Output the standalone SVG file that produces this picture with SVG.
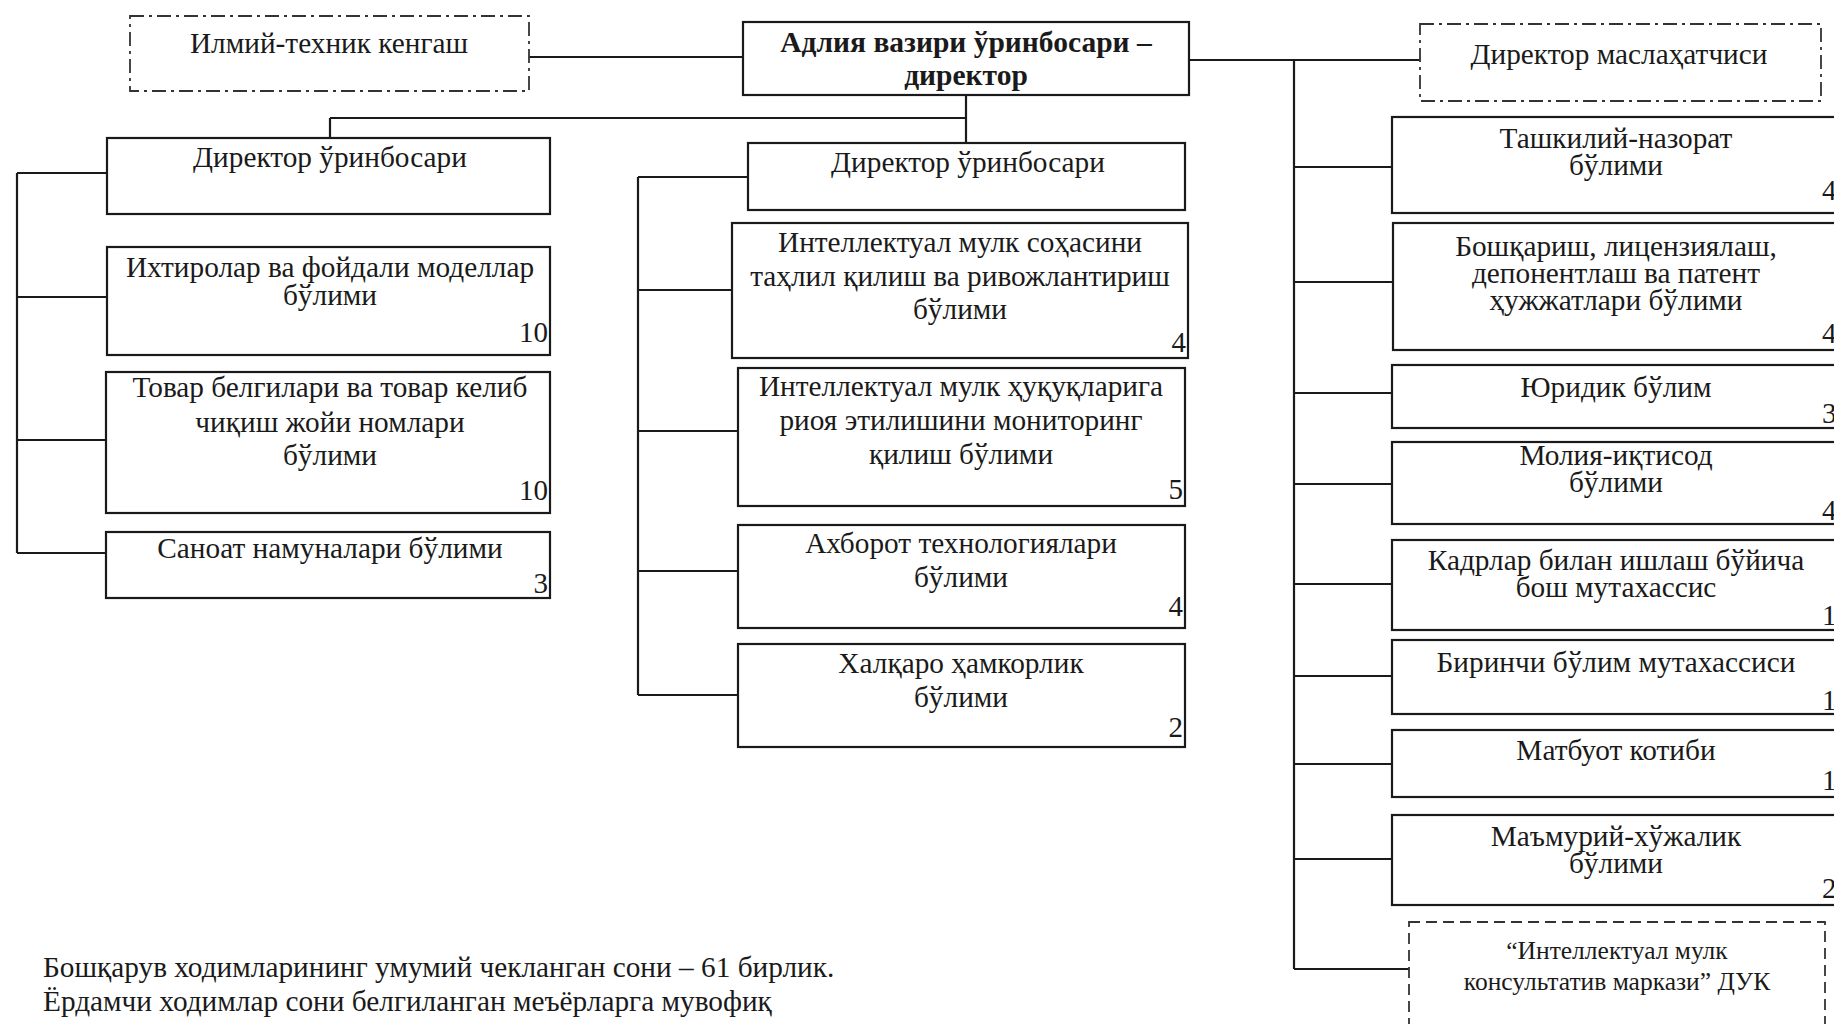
<svg xmlns="http://www.w3.org/2000/svg" width="1834" height="1024" viewBox="0 0 1834 1024">
<style>
.box{fill:#fff;stroke:#1a1a1a;stroke-width:2.2}
.dd{fill:#fff;stroke:#333;stroke-width:1.8;stroke-dasharray:14 5 3 5}
.ds{fill:#fff;stroke:#333;stroke-width:1.8;stroke-dasharray:11 6}
.t{font-family:"Liberation Serif","Times New Roman",serif;font-size:29.3px;fill:#1a1a1a;text-anchor:middle}
.b{font-weight:bold;font-size:29.5px}
.n{font-family:"Liberation Serif","Times New Roman",serif;font-size:29px;fill:#1a1a1a;text-anchor:end}
.nr{font-family:"Liberation Serif","Times New Roman",serif;font-size:29px;fill:#1a1a1a;text-anchor:start}
.s{font-size:25.5px}
.c{stroke:#1a1a1a;stroke-width:2.2;fill:none}
.f{font-family:"Liberation Serif","Times New Roman",serif;font-size:29.3px;fill:#1a1a1a}
</style>
<rect width="1834" height="1024" fill="#fff"/>
<g id="connectors">
<path class="c" d="M529 57H743M1189 60H1420M966 95V143M330 118H966M330 118V138"/>
<path class="c" d="M17 173V553M17 173H107M17 297H107M17 440H106M17 553H106"/>
<path class="c" d="M638 177V695M638 177H748M638 290H732M638 431H738M638 571H738M638 695H738"/>
<path class="c" d="M1294 60V969M1294 167H1392M1294 282H1393M1294 393H1392M1294 484H1392M1294 584H1392M1294 676H1392M1294 764H1392M1294 859H1392M1294 969H1409"/>
</g>
<g id="ilmiy"><rect class="dd" x="130" y="16" width="399" height="75"/><text class="t" x="329" y="53">Илмий-техник кенгаш</text></g>
<g id="head"><rect class="box" x="743" y="22" width="446" height="73"/><text class="t b" x="966" y="52">Адлия вазири ўринбосари –</text><text class="t b" x="966" y="85">директор</text></g>
<g id="maslahatchi"><rect class="dd" x="1420" y="24" width="401" height="77"/><text class="t" x="1619" y="64">Директор маслаҳатчиси</text></g>
<g id="dep-left"><rect class="box" x="107" y="138" width="443" height="76"/><text class="t" x="330" y="167">Директор ўринбосари</text></g>
<g id="ixtirolar"><rect class="box" x="107" y="247" width="443" height="108"/><text class="t" x="330" y="277">Ихтиролар ва фойдали моделлар</text><text class="t" x="330" y="305">бўлими</text><text class="n" x="548" y="342">10</text></g>
<g id="tovar"><rect class="box" x="106" y="372" width="444" height="141"/><text class="t" x="330" y="397">Товар белгилари ва товар келиб</text><text class="t" x="330" y="432">чиқиш жойи номлари</text><text class="t" x="330" y="465">бўлими</text><text class="n" x="548" y="500">10</text></g>
<g id="sanoat"><rect class="box" x="106" y="532" width="444" height="66"/><text class="t" x="330" y="558">Саноат намуналари бўлими</text><text class="n" x="548" y="593">3</text></g>
<g id="dep-center"><rect class="box" x="748" y="143" width="437" height="67"/><text class="t" x="968" y="172">Директор ўринбосари</text></g>
<g id="tahlil"><rect class="box" x="732" y="223" width="456" height="135"/><text class="t" x="960" y="252">Интеллектуал мулк соҳасини</text><text class="t" x="960" y="286">таҳлил қилиш ва ривожлантириш</text><text class="t" x="960" y="319">бўлими</text><text class="n" x="1186" y="352">4</text></g>
<g id="monitoring"><rect class="box" x="738" y="368" width="447" height="138"/><text class="t" x="961" y="396">Интеллектуал мулк ҳуқуқларига</text><text class="t" x="961" y="430">риоя этилишини мониторинг</text><text class="t" x="961" y="464">қилиш бўлими</text><text class="n" x="1183" y="499">5</text></g>
<g id="axborot"><rect class="box" x="738" y="525" width="447" height="103"/><text class="t" x="961" y="553">Ахборот технологиялари</text><text class="t" x="961" y="587">бўлими</text><text class="n" x="1183" y="616">4</text></g>
<g id="xalqaro"><rect class="box" x="738" y="644" width="447" height="103"/><text class="t" x="961" y="673">Халқаро ҳамкорлик</text><text class="t" x="961" y="707">бўлими</text><text class="n" x="1183" y="737">2</text></g>
<g id="tashkiliy"><rect class="box" x="1392" y="117" width="460" height="96"/><text class="t" x="1616" y="148">Ташкилий-назорат</text><text class="t" x="1616" y="175">бўлими</text><text class="nr" x="1822" y="200">4</text></g>
<g id="boshqarish"><rect class="box" x="1393" y="223" width="460" height="127"/><text class="t" x="1616" y="256">Бошқариш, лицензиялаш,</text><text class="t" x="1616" y="283">депонентлаш ва патент</text><text class="t" x="1616" y="310">ҳужжатлари бўлими</text><text class="nr" x="1822" y="343">4</text></g>
<g id="yuridik"><rect class="box" x="1392" y="365" width="460" height="63"/><text class="t" x="1616" y="397">Юридик бўлим</text><text class="nr" x="1822" y="423">3</text></g>
<g id="moliya"><rect class="box" x="1392" y="442" width="460" height="82"/><text class="t" x="1616" y="465">Молия-иқтисод</text><text class="t" x="1616" y="492">бўлими</text><text class="nr" x="1822" y="520">4</text></g>
<g id="kadrlar"><rect class="box" x="1392" y="540" width="460" height="90"/><text class="t" x="1616" y="570">Кадрлар билан ишлаш бўйича</text><text class="t" x="1616" y="597">бош мутахассис</text><text class="nr" x="1822" y="625">1</text></g>
<g id="birinchi"><rect class="box" x="1392" y="640" width="460" height="74"/><text class="t" x="1616" y="672">Биринчи бўлим мутахассиси</text><text class="nr" x="1822" y="710">1</text></g>
<g id="matbuot"><rect class="box" x="1392" y="730" width="460" height="67"/><text class="t" x="1616" y="760">Матбуот котиби</text><text class="nr" x="1822" y="790">1</text></g>
<g id="mamuriy"><rect class="box" x="1392" y="815" width="460" height="90"/><text class="t" x="1616" y="846">Маъмурий-хўжалик</text><text class="t" x="1616" y="873">бўлими</text><text class="nr" x="1822" y="898">2</text></g>
<g id="duk"><rect class="ds" x="1409" y="922" width="416" height="105"/><text class="t s" x="1617" y="959">“Интеллектуал мулк</text><text class="t s" x="1617" y="990">консультатив маркази” ДУК</text></g>
<g id="footer"><text class="f" x="43" y="977">Бошқарув ходимларининг умумий чекланган сони – 61 бирлик.</text><text class="f" x="43" y="1011">Ёрдамчи ходимлар сони белгиланган меъёрларга мувофиқ</text></g>
</svg>
